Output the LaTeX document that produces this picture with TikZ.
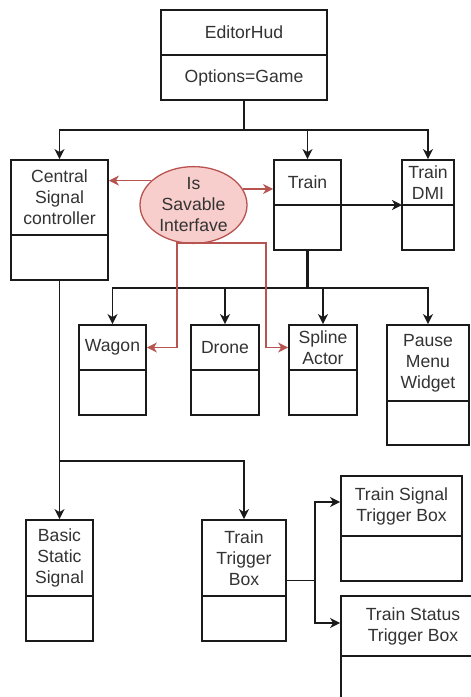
\documentclass[tikz,border=0pt]{standalone}
\usepackage{fontspec}
\setmainfont{Liberation Sans}
\usetikzlibrary{arrows.meta,shapes.geometric,calc}
\definecolor{ink}{HTML}{1A1A1A}
\definecolor{txt}{HTML}{333333}
\definecolor{redline}{HTML}{B85450}
\definecolor{redfill}{HTML}{F8CECC}

\tikzset{
  cls/.style={draw=ink, line width=1.8pt, fill=white, rectangle, inner sep=0pt},
  divider/.style={draw=ink, line width=1.8pt},
  lbl/.style={text=txt, font=\fontsize{17.6}{21}\selectfont, align=center, inner sep=0pt},
  link/.style={draw=ink, line width=1.8pt},
  arr/.style={link, -{Stealth[length=10pt,width=10pt,inset=3pt]}},
  redarr/.style={draw=redline, line width=1.3pt, -{Stealth[length=10pt,width=10pt,inset=3pt]}},
  iface/.style={ellipse, draw=redline, fill=redfill, line width=1.3pt,
    minimum width=107pt, minimum height=74pt, inner sep=0pt},
}

% class box: name, left, top, right, bottom, divider y, header text
\newcommand\umlbox[7]{%
  \node[cls, minimum width={#4-#2}, minimum height={#5-#3}] (#1)
    at ({(#2+#4)/2},{(#3+#5)/2}) {};
  \coordinate (#1-dw) at (#2,#6);
  \coordinate (#1-de) at (#4,#6);
  \draw[divider] (#1-dw) -- (#1-de);
  \node[lbl] (#1-t) at ({(#2+#4)/2},{(#3+#6)/2}) {#7};
}

\begin{document}
\begin{tikzpicture}[x=1pt,y=-1pt]
  \useasboundingbox (0,0) rectangle (471,697);
  \clip (0,0) rectangle (471,697);
  \fill[white] (0,0) rectangle (471,697);

  % classes
  \umlbox{editor}{161}{10}{327}{100}{55}{EditorHud}
  \node[lbl] (editor-o) at (244,77.5) {Options=Game};
  \umlbox{central}{11}{160}{108}{280}{235}{Central\\Signal\\controller}
  \umlbox{train}{274}{160}{341}{250}{205}{Train}
  \umlbox{dmi}{402}{160}{454}{250}{205}{Train\\DMI}
  \umlbox{wagon}{79}{325}{146}{415}{370}{Wagon}
  \umlbox{drone}{191}{325}{259}{415}{370}{Drone}
  \umlbox{spline}{289}{325}{357}{415}{370}{Spline\\Actor}
  \umlbox{pause}{387}{325}{469}{445}{401}{Pause\\Menu\\Widget}
  \umlbox{basic}{26}{520}{93}{641}{596}{Basic\\Static\\Signal}
  \umlbox{ttb}{202}{520}{286}{641}{596}{Train\\Trigger\\Box}
  \umlbox{tsig}{341}{476}{462}{581}{536}{Train Signal\\Trigger Box}
  \umlbox{tstat}{341}{596}{485}{720}{656}{Train Status\\Trigger Box}

  % interface
  \node[iface, lbl] (ell) at (193.5,205) {Is\\Savable\\Interfave};

  % EditorHud children
  \coordinate (bus1) at (244,130);
  \draw[link] (editor.south) -- (bus1);
  \draw[arr] (bus1) -| (central.north);
  \draw[arr] (bus1) -| (train.north);
  \draw[arr] (bus1) -| (dmi.north);

  % Train children
  \draw[arr] (train-de) -- (dmi-dw);
  \coordinate (bus2) at (307.5,288);
  \draw[link, line width=3pt] (train.south) -- (bus2);
  \draw[arr] (bus2) -| (wagon.north);
  \draw[arr] (bus2) -| (drone.north);
  \draw[arr] (bus2) -| (spline.north);
  \draw[arr] (bus2) -| (pause.north);

  % Central Signal controller children
  \coordinate (bus3) at (59.5,461);
  \draw[arr] (central.south) -- (basic.north);
  \draw[arr] (bus3) -| (ttb.north);

  % Train Trigger Box children
  \coordinate (bus4) at (315,580.5);
  \draw[link] (ttb.east) -- (bus4);
  \draw[arr] (bus4) |- ([yshift=4pt]tsig.west |- tsig-t.center);
  \draw[arr] (bus4) |- ([yshift=3pt]tstat.west |- tstat-t.center);

  % interface realisations
  \draw[redarr] (ell.150) -- (ell.150 -| central.east);
  \draw[redarr] (ell.18) -- (ell.18 -| train.west);
  \coordinate (rj) at (177,243);
  \coordinate (rk) at (266,243);
  \draw[redarr] (ell.246) |- (wagon.east |- wagon-t.center);
  \draw[redarr] (rj) -- (rk) |- (spline.west |- spline-t.center);
\end{tikzpicture}
\end{document}
